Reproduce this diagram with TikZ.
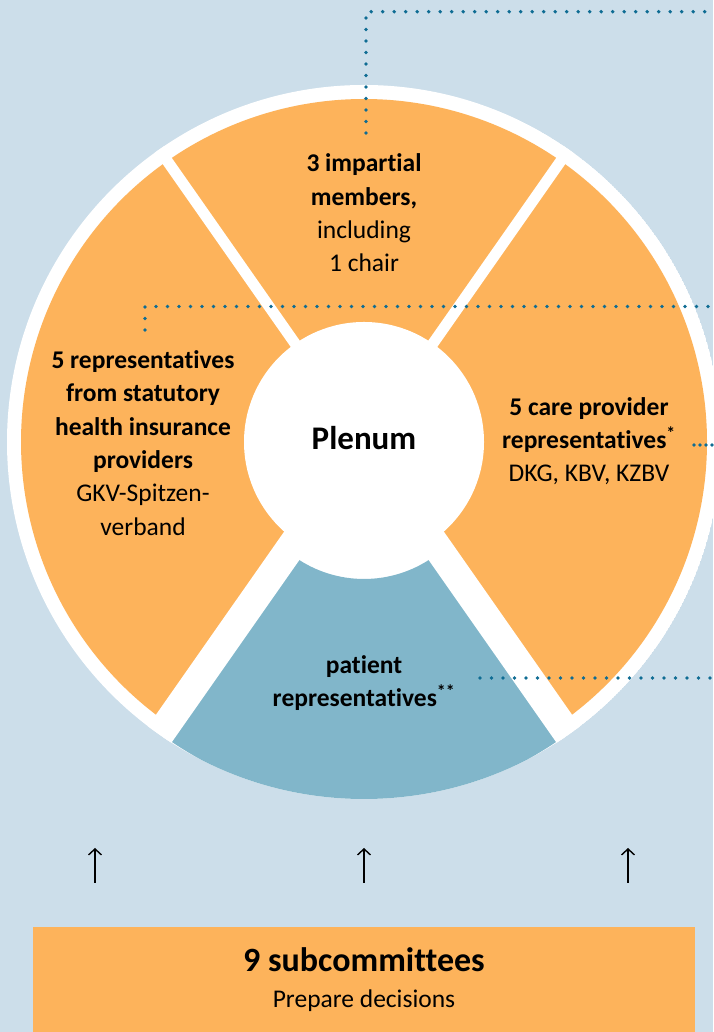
\documentclass[tikz,border=0pt]{standalone}
\usepackage{fontspec}
\setmainfont{Carlito}[Ligatures={NoCommon,NoRare,NoDiscretionary}]
\usetikzlibrary{arrows.meta,calc}
\definecolor{bg}{HTML}{CCDEEA}
\definecolor{og}{HTML}{FDB35B}
\definecolor{bl}{HTML}{81B6CA}
\definecolor{dotc}{HTML}{0E6C93}
\begin{document}
\begin{tikzpicture}[x=1pt,y=1pt,
  txt/.style={align=center, font=\fontsize{25.5}{33.3}\selectfont, inner sep=0pt},
  bigtxt/.style={font=\fontsize{33}{36}\selectfont\bfseries, inner sep=0pt},
  dotline/.style={draw=dotc, line width=3.8pt, line cap=round, dash pattern=on 0pt off 11.5pt},
  uparrow/.style={draw=black, -{Straight Barb[length=6pt,width=13pt]}, line width=1.4pt},
  gap/.style={draw=white}]
\useasboundingbox (0,0) rectangle (713,1032);
\fill[bg] (0,0) rectangle (713,1032);
\coordinate (C) at (364,590);
\coordinate (Cb) at (364,573);
\begin{scope}
  \clip (C) circle (357);
  \fill[white] (C) circle (357);
  \fill[og] (C) -- ++(55:343) arc[start angle=55,end angle=125,radius=343] -- cycle;
  \fill[og] (C) -- ++(125:343) arc[start angle=125,end angle=235,radius=343] -- cycle;
  \fill[og] (C) -- ++(-55:343) arc[start angle=-55,end angle=55,radius=343] -- cycle;
  \draw[gap, line width=11pt] (C) -- ++(55:380);
  \draw[gap, line width=11pt] (C) -- ++(125:380);
  \draw[gap, line width=28pt] (C) -- ++(235:380);
  \draw[gap, line width=28pt] (C) -- ++(305:380);
  \fill[bl] ($(Cb)+(235:120)$) arc[start angle=235,end angle=305,radius=120]
     -- ($(Cb)+(305:342)$) arc[start angle=305,end angle=235,radius=342] -- cycle;
  \draw[gap, line width=10pt] (Cb) -- ++(235:380);
  \draw[gap, line width=10pt] (Cb) -- ++(305:380);
\end{scope}
\fill[white] (C) circle (120);
\node[bigtxt] (plenum) at (364,594) {Plenum};

\node[txt] (imp) at (364,819) {\textbf{3 impartial}\\\textbf{members,}\\including\\1 chair};
\node[txt] (gkv) at (143,589) {\textbf{5 representatives}\\\textbf{from statutory}\\\textbf{health insurance}\\\textbf{providers}\\GKV-Spitzen-\\verband};
\node[txt] (care) at (589,591) {\textbf{5 care provider}\\\textbf{representatives\textsuperscript{*}}\\DKG, KBV, KZBV};
\node[txt] (pat) at (364,349) {\textbf{patient}\\\textbf{representatives\textsuperscript{**}}};

% dotted connectors
\coordinate (d1a) at (366,899);
\coordinate (d1b) at (366,1020.3);
\coordinate (d1c) at (713,1020.3);
\draw[dotline] (d1a) -- (d1b) -- (d1c);
\coordinate (d2a) at (145,702);
\coordinate (d2b) at (145,725.5);
\coordinate (d2c) at (713,725.5);
\draw[dotline] (d2a) -- (d2b) -- (d2c);
\coordinate (d3a) at (694,587);
\coordinate (d3b) at (716,587);
\draw[dotline, dash pattern=on 0pt off 6pt] (d3a) -- (d3b);
\coordinate (d4a) at (480,354);
\coordinate (d4b) at (716,354);
\draw[dotline] (d4a) -- (d4b);

% subcommittees
\node[fill=og, minimum width=662pt, minimum height=110pt, anchor=north west, inner sep=0pt] (sub) at (33,105) {};
\node[bigtxt, font=\fontsize{34}{36}\selectfont\bfseries] (subt) at (364,72) {9 subcommittees};
\node[txt] (subd) at (364,31) {Prepare decisions};

\coordinate (a1s) at (95,149);  \coordinate (a1e) at (95,184);
\coordinate (a2s) at (364,149); \coordinate (a2e) at (364,184);
\coordinate (a3s) at (628,149); \coordinate (a3e) at (628,184);
\draw[uparrow] (a1s) -- (a1e);
\draw[uparrow] (a2s) -- (a2e);
\draw[uparrow] (a3s) -- (a3e);
\end{tikzpicture}
\end{document}
